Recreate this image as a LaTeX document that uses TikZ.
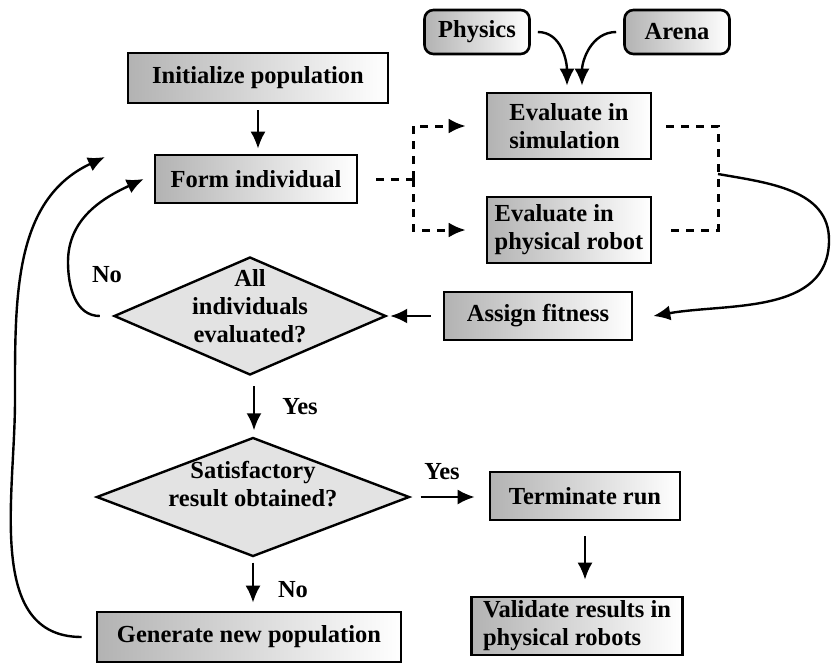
\documentclass[tikz,border=0pt]{standalone}
\usepackage{fontspec}
\setmainfont{Liberation Serif}
\usetikzlibrary{arrows.meta,shapes.geometric}

\begin{document}
\begin{tikzpicture}[
      x=1pt, y=1pt,
      font=\bfseries\fontsize{24.5}{28}\selectfont,
      box/.style={
          rectangle, draw, line width=2.6pt,
          left color=gray!60, right color=white,
          align=center,
          inner sep=2pt
        },
      src/.style={box, rounded corners=9pt, minimum width=105pt, minimum height=44pt},
      decision/.style={diamond, draw, line width=2.4pt, fill=gray!22, inner sep=0pt},
      arrow/.style={draw, line width=2.4pt, -{Latex[length=17pt,width=15pt]}},
      dashline/.style={draw, line width=3pt, dash pattern=on 8pt off 7pt},
      tag/.style={inner sep=1pt},
    ]
    \useasboundingbox (0,0) rectangle (834,-664);

    \node[src] (physics) at (477,-32) {Physics};
    \node[src] (arena) at (677,-32) {Arena};
    \node[box, minimum width=260pt, minimum height=50pt] (init) at (258,-78) {Initialize population};
    \node[box, minimum width=202pt, minimum height=48pt] (form) at (256,-179) {Form individual};
    \node[box, align=left, minimum width=164pt, minimum height=66pt] (sim) at (569,-126) {Evaluate in\\simulation};
    \node[box, align=left, minimum width=164pt, minimum height=66pt] (phys) at (569,-230) {Evaluate in\\physical robot};
    \node[box, minimum width=188pt, minimum height=48pt] (assign) at (538,-316) {Assign fitness};
    \node[decision, minimum width=272pt, minimum height=118pt] (check1) at (250,-316) {};
    \node[align=center] (check1text) at (250,-306) {All\\individuals\\evaluated?};
    \node[decision, minimum width=313pt, minimum height=119pt] (check2) at (253,-497) {};
    \node[align=center] (check2text) at (253,-484) {Satisfactory\\result obtained?};
    \node[box, minimum width=190pt, minimum height=48pt] (term) at (585,-496) {Terminate run};
    \node[box, align=left, minimum width=211pt, minimum height=58pt] (valid) at (577,-626) {Validate results in\\physical robots};
    \node[box, minimum width=304pt, minimum height=50pt] (newpop) at (249,-637) {Generate new population};

    \node[tag] (no1) at (107,-275) {No};
    \node[tag] (yes1) at (300,-407) {Yes};
    \node[tag] (yes2) at (442,-472) {Yes};
    \node[tag] (no2) at (293,-590) {No};

    \coordinate (fork) at (413,-179);
    \coordinate (join) at (718,-174);
    \coordinate (back) at (105,-157);

    \draw[arrow, shorten <=6pt, shorten >=5pt] (init.south) -- (init.south |- form.north);
    \draw[arrow] ([xshift=7pt]physics.east) to[out=0,in=90] ([xshift=-2pt,yshift=6pt]sim.north);
    \draw[arrow] ([xshift=-7pt]arena.west) to[out=180,in=90] ([xshift=13pt,yshift=6pt]sim.north);

    % evaluation branches
    \draw[dashline] ([xshift=18pt]form.east) -- (fork);
    \draw[dashline, -{Latex[length=17pt,width=15pt]}] (fork) |- ([xshift=-20pt]sim.west);
    \draw[dashline, -{Latex[length=17pt,width=15pt]}] (fork) |- ([xshift=-20pt]phys.west);
    \draw[dashline] ([xshift=14pt]sim.east) -| (join) |- ([xshift=14pt]phys.east);
    \draw[arrow] (join) to[out=-10,in=90] (829,-240) to[out=-90,in=10] ([xshift=20pt]assign.east);

    \draw[arrow, shorten <=12pt, shorten >=3pt] (assign.west) -- (check1.east);
    \draw[arrow] ([xshift=-13pt]check1.west) to[out=180,in=-90] (68,-262) to[out=90,in=205] ([xshift=-10pt]form.west);
    \draw[arrow, shorten <=10pt, shorten >=6pt] ([xshift=4pt]check1.south) -- ([xshift=4pt]check1.south |- check2.north);
    \draw[arrow, shorten <=10pt, shorten >=14pt] (check2.east) -- (check2.east -| term.west);
    \draw[arrow, shorten <=15pt, shorten >=16pt] (term.south) -- (term.south |- valid.north);
    \draw[arrow, shorten <=5pt, shorten >=8pt] (check2.south) -- (check2.south |- newpop.north);
    \draw[arrow] ([xshift=-14pt]newpop.west) to[out=180,in=-90] (15,-400) to[out=90,in=205] (back);
  \end{tikzpicture}
\end{document}
